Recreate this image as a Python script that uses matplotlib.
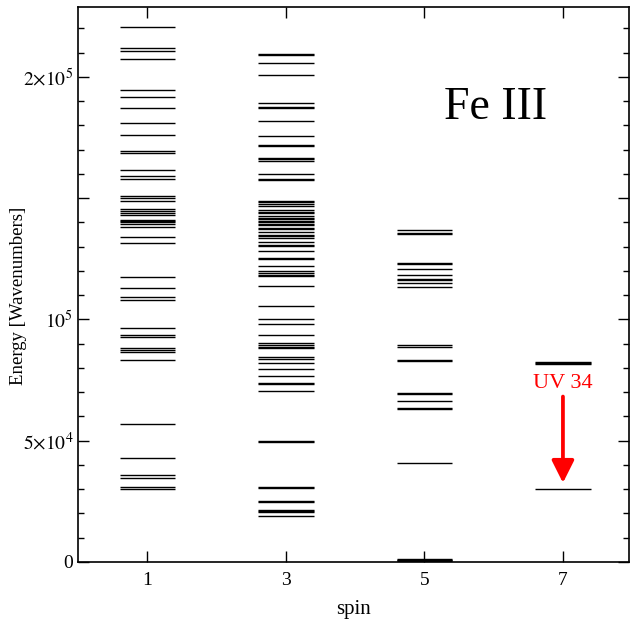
import matplotlib
matplotlib.use("Agg")
import matplotlib.pyplot as plt
from matplotlib.ticker import MultipleLocator, FixedLocator

plt.rcParams['font.family'] = ['Liberation Serif', 'DejaVu Serif']
plt.rcParams['mathtext.fontset'] = 'stix'

# Fe III energy levels (cm^-1) grouped by spin multiplicity
spins = [1, 3, 5, 7]

levels_1 = [220540, 211860, 210620, 207310, 194630, 191610, 187070, 180870,
            175910, 169550, 168600, 161450, 158970, 157730, 150950, 150120,
            148640, 145740, 144630, 144010, 142980, 141030, 140500, 140080,
            139550, 138310, 134170, 131400, 117640, 113100, 109380, 107850,
            96570, 93390, 92560, 88310, 87600, 86780, 83350, 56900, 42850,
            35830, 34710, 30990, 30170]

levels_3 = [209590, 209170, 205660, 200830, 189260, 187690, 187060, 181940,
            175500, 172070, 171490, 166740, 165990, 165290, 159790, 158020,
            157440, 148930, 148350, 147400, 146820, 145330, 144380, 143800,
            142560, 141940, 141320, 140700, 140080, 139460, 139050, 137770,
            137190, 136240, 134920, 134300, 133680, 131940, 130870, 130290,
            128220, 125370, 124790, 121900, 119830, 119260, 118470, 117890,
            113930, 105660, 100290, 98220, 93390, 90370, 89540, 88840, 88260,
            84460, 83880, 82110, 79630, 76730, 73970, 73390, 70660, 49880,
            49300, 30870, 30290, 25210, 24630, 21490, 21070, 20660, 19130]

levels_5 = [136780, 135700, 135120, 123310, 122730, 120660, 118180, 116820,
            116240, 114880, 113350, 89260, 88680, 83470, 82890, 69830, 69260,
            66530, 63510, 62930, 40790, 1027, 932, 739, 436, 0]

levels_7 = [82400, 82100, 81800, 30090]

all_levels = [levels_1, levels_3, levels_5, levels_7]

# UV 34 transition: 7P -> 7S
uv34_upper = 68200
uv34_lower = 32600

fig = plt.figure(figsize=(6.3, 6.23), dpi=100)
ax = fig.add_axes([0.124, 0.098, 0.874, 0.891])

for s, lev in zip(spins, all_levels):
    ax.hlines(lev, s - 0.4, s + 0.4, colors='black', linewidth=1.0)

ax.annotate('', xy=(7, uv34_lower), xytext=(7, uv34_upper),
            arrowprops=dict(arrowstyle='-|>', color='red', lw=2.7,
                            mutation_scale=34, shrinkA=0, shrinkB=0))
ax.text(7.0, 73600, 'UV 34', color='red', fontsize=16, ha='center', va='center')
ax.text(6.03, 187200, 'Fe III', fontsize=33, ha='center', va='center')

ax.set_xlim(0, 7.95)
ax.set_ylim(0, 228900)
ax.set_xticks(spins)
ax.xaxis.set_minor_locator(FixedLocator([]))
ax.set_yticks([0, 50000, 100000, 150000, 200000])
ax.set_yticklabels(['0', r'$5{\times}10^4$', r'$10^5$', '', r'$2{\times}10^5$'])
ax.yaxis.set_minor_locator(MultipleLocator(10000))

ax.tick_params(which='both', direction='in', top=True, right=True,
               labelsize=14, width=1.0)
ax.tick_params(which='major', length=8)
ax.tick_params(which='minor', length=4)
ax.tick_params(axis='x', pad=7)
for sp in ax.spines.values():
    sp.set_linewidth(1.2)

ax.set_xlabel('spin', fontsize=15, labelpad=8)
ax.set_ylabel('Energy [Wavenumbers]', fontsize=13.5)
ax.yaxis.set_label_coords(-0.093, 0.479)

fig.savefig('out.png', dpi=100)
